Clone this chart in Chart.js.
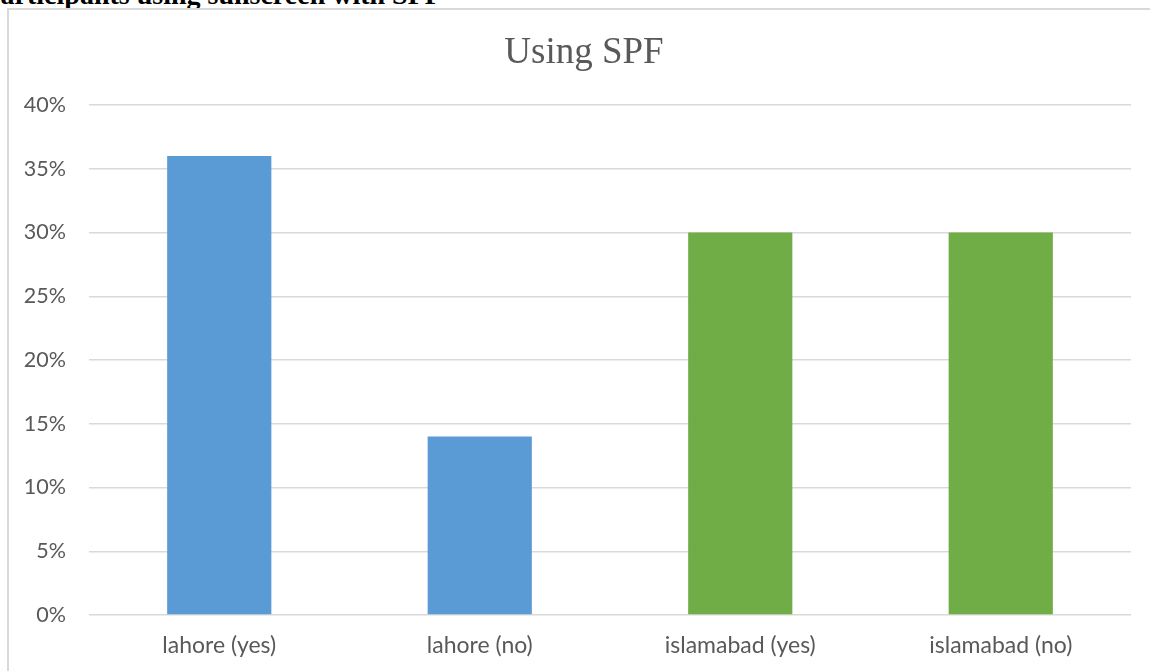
<!DOCTYPE html>
<html>
<head>
<meta charset="utf-8">
<script src="https://cdn.jsdelivr.net/npm/chart.js@4/dist/chart.umd.min.js"></script>
<style>
  html, body { margin: 0; padding: 0; background: #fff; overflow: hidden; }
  #wrap { position: relative; width: 1150px; height: 671px; overflow: hidden; }
  #caption {
    position: absolute; left: -15px; top: -21px; margin: 0;
    font: bold 28px "Liberation Serif", "DejaVu Serif", serif; color: #000;
    white-space: nowrap;
  }
  #frame {
    position: absolute; left: 7px; top: 8px; width: 1200px; height: 700px;
    border: 2px solid #d9d9d9; box-sizing: border-box;
  }
  canvas { position: absolute; left: 0; top: 0; }
</style>
</head>
<body>
<div id="wrap">
  <p id="caption">participants using sunscreen with SPF</p>
  <div id="frame"></div>
  <canvas id="c" width="1150" height="671"></canvas>
</div>
<script>
const categories = ["lahore (yes)", "lahore (no)", "islamabad (yes)", "islamabad (no)"];
const shares = [0.36, 0.14, 0.30, 0.30];
const barColors = ["#5B9BD5", "#5B9BD5", "#70AD47", "#70AD47"];
const yTicks = [0, 0.05, 0.10, 0.15, 0.20, 0.25, 0.30, 0.35, 0.40];
const chartTitle = "Using SPF";

const xLabelFont = { family: "Lato, 'Noto Sans', sans-serif", size: 23 };
const yLabelFont = { family: "Lato, 'Noto Sans', sans-serif", size: 21.5 };

// Title centred over the whole frame (not only the plot area)
const frameTitle = {
  id: "frameTitle",
  afterDraw(chart) {
    const ctx = chart.ctx;
    ctx.save();
    ctx.font = "37px 'Liberation Serif', serif";
    ctx.fillStyle = "#595959";
    ctx.textAlign = "center";
    ctx.textBaseline = "alphabetic";
    ctx.fillText(chartTitle, 584, 63);
    ctx.restore();
  }
};

new Chart(document.getElementById("c"), {
  type: "bar",
  data: {
    labels: categories,
    datasets: [{
      data: shares,
      backgroundColor: barColors,
      borderWidth: 0,
      categoryPercentage: 1,
      barPercentage: 0.4
    }]
  },
  options: {
    responsive: false,
    animation: false,
    layout: { padding: { left: 0, right: 19, top: 105, bottom: 0 } },
    plugins: {
      legend: { display: false },
      tooltip: { enabled: false },
      title: { display: false }
    },
    scales: {
      x: {
        grid: { display: false, drawTicks: false },
        border: { display: false },
        ticks: { color: "#595959", font: xLabelFont, padding: 17, maxRotation: 0 },
        afterFit: s => { s.height = 56; }
      },
      y: {
        min: 0, max: 0.4,
        afterBuildTicks: s => { s.ticks = yTicks.map(v => ({ value: v })); },
        grid: { color: "#d9d9d9", lineWidth: 1.5, drawTicks: false },
        border: { display: false },
        ticks: {
          color: "#595959", font: yLabelFont, padding: 23,
          callback: v => Math.round(v * 100) + "%"
        },
        afterFit: s => { s.width = 89; }
      }
    }
  },
  plugins: [frameTitle]
});
</script>
</body>
</html>
